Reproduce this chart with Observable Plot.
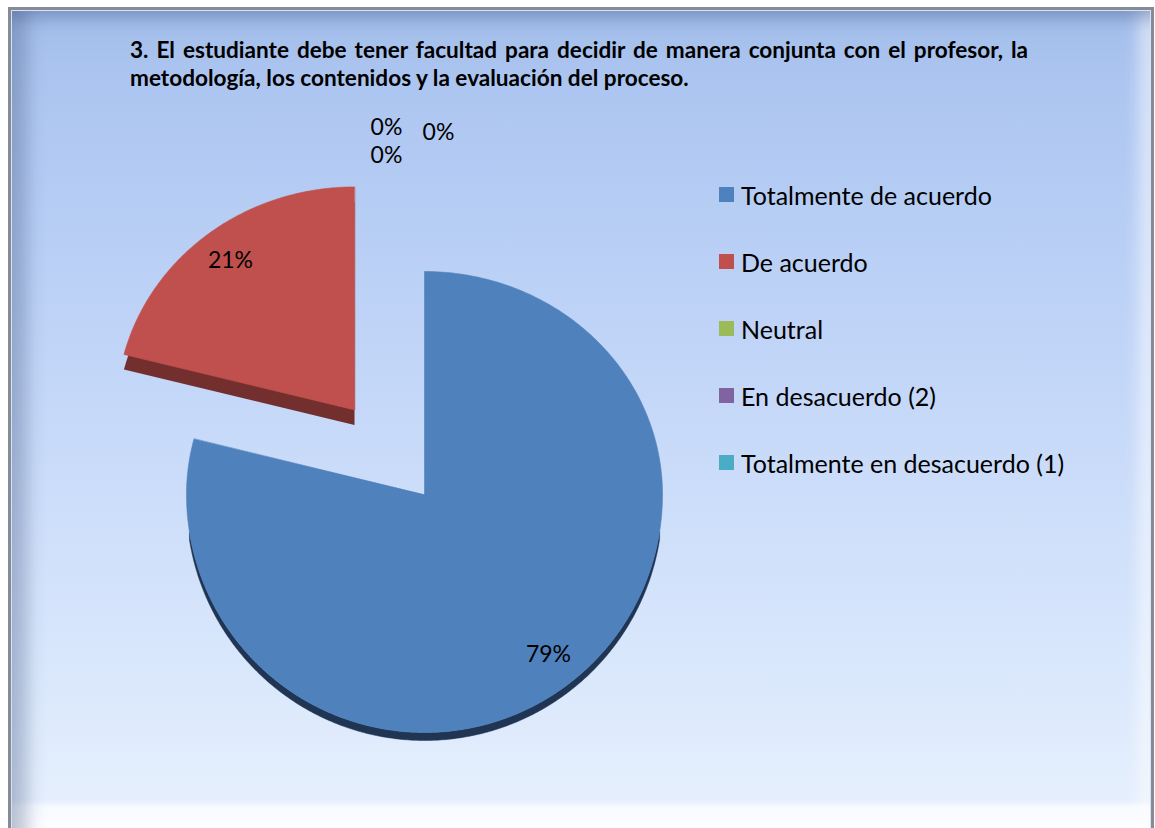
<!DOCTYPE html>
<html><head><meta charset="utf-8">
<script src="https://cdn.jsdelivr.net/npm/d3@7"></script>
<script src="https://cdn.jsdelivr.net/npm/@observablehq/plot@0.6"></script>
<style>
html,body{margin:0;padding:0;}
body{width:1155px;height:828px;overflow:hidden;background:#fff;position:relative;font-family:Lato,"Open Sans",sans-serif;}
#frame{position:absolute;left:8px;top:7px;width:1146px;height:850px;box-sizing:border-box;border:3px solid #868c96;
 background:linear-gradient(to bottom,#a3bdea 0px,#adc6f1 80px,#c2d6f8 360px,#d9e7fc 650px,#e5effd 790px,#f7faff 797px,#ffffff 830px);
 box-shadow: inset 0 0 0 1px #d7e2f6, inset 0 20px 16px -12px rgba(60,85,135,0.40), inset 30px 0 18px -14px rgba(70,90,130,0.35), inset -24px 0 16px -12px rgba(255,255,255,0.55);}
#title{position:absolute;left:130px;top:36px;width:898px;font-weight:700;font-size:21px;line-height:28px;color:#000;}
#title .l1{text-align:justify;text-align-last:justify;white-space:nowrap;}
#chart{position:absolute;left:0;top:0;}
#legend{position:absolute;left:719px;top:161px;width:430px;}
#legend .lg-swatch{height:67px;padding:0 !important;margin:0 !important;font-family:Lato,"Open Sans",sans-serif;font-size:25px;color:#000;display:flex;align-items:center;}
#legend .lg-swatch svg{margin-right:7px;}
#legend .lg-swatches{margin:0 !important;font-size:25px;}
</style></head><body>
<div id="frame"></div>
<div id="title"><div class="l1">3. El estudiante debe tener facultad para decidir de manera conjunta con el profesor, la</div><div class="l2">metodología, los contenidos y la evaluación del proceso.</div></div>
<div id="chart"></div>
<div id="legend"></div>
<script>
// ---- data ----
const categories = ["Totalmente de acuerdo", "De acuerdo", "Neutral", "En desacuerdo (2)", "Totalmente en desacuerdo (1)"];
const values = [79, 21, 0, 0, 0];
const percentLabels = ["79%", "21%", "0%", "0%", "0%"];
const colors = ["#4f81bd", "#c0504d", "#9bbb59", "#8064a2", "#4bacc6"];

// ---- title sizing (fit the font to the frame width) ----
(function fitTitle() {
  const c = document.createElement("canvas").getContext("2d");
  const l1 = document.querySelector("#title .l1").textContent;
  const l2 = document.querySelector("#title .l2").textContent;
  c.font = "700 20px Lato";
  const w1 = c.measureText(l1).width, w2 = c.measureText(l2).width;
  const s = Math.min(20 * 560 / w2, 20 * 893 / w1);
  document.getElementById("title").style.fontSize = s.toFixed(2) + "px";
})();

// ---- drawing ----
const sideColors = {"Totalmente de acuerdo": "#1f3553", "De acuerdo": "#732f2d"};
const explodedCategory = "De acuerdo", explodeBy = 0.48;
const labelRadius = 0.85;
const depth = 8 / 238;     // thickness of the pie (in radius units)
const explodedDepthPx = 15;
const tilt = y => y > 0 ? y * 223 / 238 : y;   // far half of the tilted pie looks shorter

const arcs = d3.pie().sort(null).value(d => d)(values);
const pts = [], sides = [], lbls = [];
let zeroCount = 0;
arcs.forEach((a, i) => {
  const cat = categories[i];
  const mid = (a.startAngle + a.endAngle) / 2;
  const ex = cat === explodedCategory ? explodeBy : 0;
  const ox = ex * Math.sin(mid), oy = ex * Math.cos(mid);
  if (values[i] > 0) {
    pts.push({cat, x: ox, y: tilt(oy)});
    const n = Math.max(2, Math.ceil((a.endAngle - a.startAngle) / 0.01));
    const front = [];
    for (let k = 0; k <= n; k++) {
      const t = a.startAngle + (a.endAngle - a.startAngle) * k / n;
      const p = {cat, x: ox + Math.sin(t), y: tilt(oy + Math.cos(t))};
      pts.push(p);
      if (Math.cos(t) < -0.15) front.push(p);
    }
    if (cat !== explodedCategory && front.length > 1) {
      // visible outer rim: the front part of the arc and the same arc lowered by the depth
      front.forEach(p => sides.push({cat, x: p.x, y: p.y}));
      front.slice().reverse().forEach(p => sides.push({cat, x: p.x, y: p.y - depth}));
    }
    lbls.push({text: percentLabels[i], x: ox + labelRadius * Math.sin(mid), y: tilt(oy + labelRadius * Math.cos(mid))});
  } else {
    lbls.push({text: percentLabels[i], x: 1.55 * Math.sin(a.startAngle), y: tilt(1.55 * Math.cos(a.startAngle)), zero: zeroCount++});
  }
});

const zeroNudges = [[-38, -21], [-38, 7], [14, -16]];
const textOpts = {fontSize: 23, fill: "#000", textAnchor: "middle", fontFamily: "Lato, 'Open Sans', sans-serif"};

const marks = [
  // exploded slice: its body lowered gives the visible side face
  Plot.line(pts.filter(d => d.cat === explodedCategory), {x: "x", y: "y", fill: sideColors[explodedCategory], dy: explodedDepthPx, curve: "linear-closed"})
];
for (const cat of Object.keys(sideColors)) {
  const s = sides.filter(d => d.cat === cat);
  if (s.length) marks.push(Plot.line(s, {x: "x", y: "y", fill: sideColors[cat], stroke: sideColors[cat], strokeWidth: 0.5, curve: "linear-closed"}));
}
marks.push(Plot.line(pts, {x: "x", y: "y", z: "cat", fill: "cat", stroke: "cat", strokeWidth: 0.6, curve: "linear-closed"}));
marks.push(Plot.text(lbls.filter(d => d.zero === undefined), {x: "x", y: "y", text: "text", ...textOpts}));
zeroNudges.forEach((nd, k) => {
  marks.push(Plot.text(lbls.filter(d => d.zero === k), {x: "x", y: "y", text: "text", dx: nd[0], dy: nd[1], ...textOpts}));
});

const chart = Plot.plot({
  width: 1155, height: 828,
  marginLeft: 0, marginRight: 0, marginTop: 0, marginBottom: 0,
  style: {background: "transparent", overflow: "visible"},
  x: {type: "linear", domain: [-1, 1], range: [186, 662], axis: null},
  y: {type: "linear", domain: [-1, 1], range: [732, 256], axis: null},
  color: {domain: categories, range: colors},
  marks
});
document.getElementById("chart").appendChild(chart);

const leg = Plot.legend({color: {type: "ordinal", domain: categories, range: colors}, legend: "swatches", columns: 1, swatchSize: 15, className: "lg"});
document.getElementById("legend").appendChild(leg);
</script>
</body></html>
